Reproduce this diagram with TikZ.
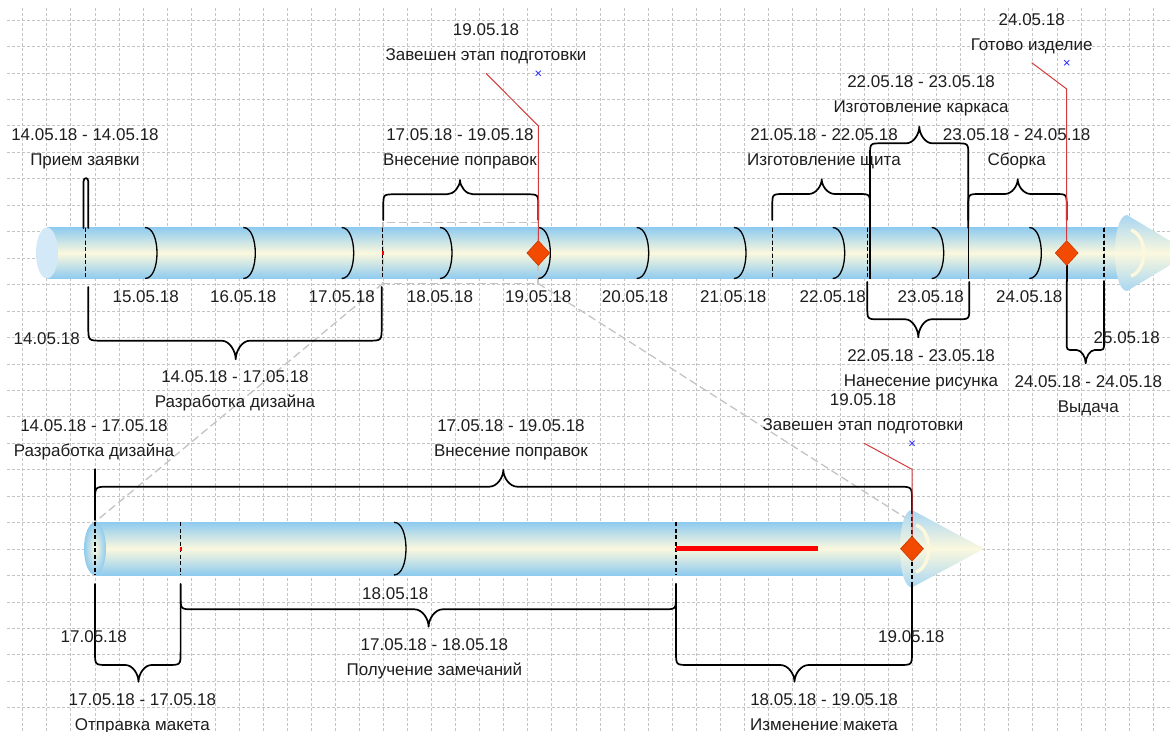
\documentclass[tikz,border=0pt]{standalone}
\usepackage{fontspec}
\setmainfont{Liberation Sans}
\usetikzlibrary{shapes.geometric}
\definecolor{tubeblue}{HTML}{8FCBEF}
\definecolor{tubecream}{HTML}{FBF8DE}
\definecolor{capblue}{HTML}{D3E9F7}
\definecolor{coneblue}{HTML}{A9D6F2}
\definecolor{msorange}{HTML}{F24A00}
\definecolor{msedge}{HTML}{C83800}
\definecolor{calloutred}{HTML}{D23C3C}
\definecolor{textgray}{HTML}{1E1E1E}
\definecolor{markblue}{HTML}{3A3AFF}
\definecolor{gridgray}{HTML}{C4C4C4}
\tikzset{
  gridln/.style={draw=gridgray, line width=0.7pt, dash pattern=on 3pt off 2pt},
  brace/.style={draw=black, line width=1.7pt, line join=round, line cap=round},
  daymark/.style={draw=black, line width=1.3pt},
  dashmark/.style={draw=black, line width=1.1pt, dash pattern=on 4pt off 2.5pt},
  solidmark/.style={draw=black, line width=1.4pt},
  zoomln/.style={draw=gridgray, line width=1.3pt, dash pattern=on 8pt off 4pt},
  callout/.style={draw=calloutred, line width=1pt},
  lbl/.style={font=\fontsize{17}{20}\selectfont, text=textgray, inner sep=0pt, anchor=base},
  milestone/.style={diamond, fill=msorange, draw=msedge, line width=0.6pt, minimum width=23pt, minimum height=25pt, inner sep=0pt},
  xmark/.style={draw=markblue, line width=0.9pt},
}
\newcommand{\twolbl}[5]{%
  \node[lbl] (#1d) at (#2,#3+6) {#4};
  \node[lbl] (#1n) at (#2,#3+31) {#5};}
\newcommand{\bracepath}[8]{% x1, x2, yend, yline, ytip, xtip, r, th
  \pgfmathsetmacro{\bpS}{(#4>#3)?1:-1}%
  \pgfmathsetmacro{\bpYa}{#4-\bpS*#7}%
  \pgfmathsetmacro{\bpXa}{#1+#7}%
  \pgfmathsetmacro{\bpXb}{#2-#7}%
  \pgfmathsetmacro{\bpTl}{#6-#8}%
  \pgfmathsetmacro{\bpTr}{#6+#8}%
  \pgfmathsetmacro{\bpTlc}{#6-0.45*#8}%
  \pgfmathsetmacro{\bpTrc}{#6+0.45*#8}%
  \pgfmathsetmacro{\bpYt}{#4+0.55*(#5-#4)}%
  \draw[brace] (#1,#3) -- (#1,\bpYa) .. controls (#1,#4) .. (\bpXa,#4) -- (\bpTl,#4)
    .. controls (\bpTlc,#4) and (#6,\bpYt) .. (#6,#5)
    .. controls (#6,\bpYt) and (\bpTrc,#4) .. (\bpTr,#4) -- (\bpXb,#4)
    .. controls (#2,#4) .. (#2,\bpYa) -- (#2,#3);}
\newcommand{\dayarc}[3]{% x, ytop, ybottom
  \draw[daymark] (#1,#2) .. controls (#1+16,#2) and (#1+16,#3) .. (#1,#3);}
\newcommand{\bluex}[2]{%
  \draw[xmark] (#1-2.6,#2-2.6) -- (#1+2.6,#2+2.6) (#1-2.6,#2+2.6) -- (#1+2.6,#2-2.6);}
\begin{document}
\begin{tikzpicture}[x=1pt,y=-1pt]
\useasboundingbox (0,0) rectangle (1170,731);
\fill[white] (0,0) rectangle (1170,731);
% grid
\foreach \i in {0,...,47} \draw[gridln] ({22.7+24.05*\i},8) -- ({22.7+24.05*\i},731);
\foreach \j in {0,...,26} \draw[gridln] (7,{20+26.45*\j}) -- (1170,{20+26.45*\j});

% ---------- top tube ----------
\shade[top color=tubeblue, bottom color=tubeblue, middle color=tubecream] (47,227.5) rectangle (1125,278.5);
\fill[capblue] (47,253) ellipse [x radius=11, y radius=25.5];
% arrow head
\shade[top color=coneblue, bottom color=coneblue, middle color=tubecream]
  (1127,215) -- (1190,253) -- (1127,291) .. controls (1111,291) and (1111,215) .. (1127,215) -- cycle;
\draw[tubecream, line width=3.5pt] (1131,230) .. controls (1148,236) and (1148,270) .. (1131,276);

% zoom frame and lines
\coordinate (zA) at (383,222.3);
\coordinate (zB) at (538,283.3);
\coordinate (zC) at (383,283.3);
\coordinate (zL) at (95,522);
\coordinate (zR) at (912,522);
\draw[zoomln] (zA) rectangle (zB);
\draw[zoomln] (zC) -- (zL);
\draw[zoomln] (zB) -- (zR);

% day marks top tube
\foreach \x in {145,243.3,341.7,440,538.3,636.7,734,832.7,931.7,1029.3} \dayarc{\x}{227.5}{278.5}
\foreach \x in {85.5,382.5,772.3,867.3,1104} \draw[dashmark] (\x,227.5) -- (\x,278.5);
\draw[solidmark] (870,227.5) -- (870,278.5);
\draw[solidmark] (968.3,227.5) -- (968.3,278.5);
\draw[red, line width=2pt] (382.5,251) -- (382.5,255);

% braces top
\draw[brace] (83.5,228) -- (83.5,181.5) .. controls (83.5,177) and (88.3,177) .. (88.3,181.5) -- (88.3,228);
\bracepath{383.3}{538.3}{220}{194.3}{180}{460}{12}{13}
\bracepath{772.3}{870}{220}{194}{179.3}{821.7}{12}{13}
\bracepath{870}{968.3}{228}{143.3}{126.7}{919.3}{12}{13}
\bracepath{968.3}{1066.7}{220}{194}{179.3}{1017.7}{12}{13}
\bracepath{88.3}{381.7}{287}{340.7}{359.3}{235.7}{14}{14}
\bracepath{867.3}{969.3}{282}{319.3}{337.3}{918.3}{12}{13}
\bracepath{1066.7}{1104}{281}{350}{363.3}{1085.7}{7}{9}
\draw[brace] (1066.7,265) -- (1066.7,281);

% milestones top
\node[milestone] (m1) at (538.3,253) {};
\node[milestone] (m2) at (1066.7,253) {};
\coordinate (c1a) at (486,73.3);
\coordinate (c1b) at (538.3,126);
\draw[callout] (c1a) -- (c1b) -- (m1.north);
\coordinate (c2a) at (1031.7,62.7);
\coordinate (c2b) at (1066.7,89);
\draw[callout] (c2a) -- (c2b) -- (m2.north);
\bluex{538.3}{73.3}
\bluex{1066.7}{62.7}

% ---------- lower tube ----------
\shade[top color=tubeblue, bottom color=tubeblue, middle color=tubecream] (95,522.3) rectangle (908,575);
\shade[inner color=tubecream, outer color=tubeblue] (95,548.7) ellipse [x radius=11, y radius=26.4];
\shade[top color=coneblue, bottom color=coneblue, middle color=tubecream]
  (912,510) -- (984,548.7) -- (912,587.4) .. controls (896,587.4) and (896,510) .. (912,510) -- cycle;
\draw[tubecream, line width=3.5pt] (916,525) .. controls (933,531) and (933,566) .. (916,572);
\dayarc{394}{522.3}{575}
\draw[dashmark] (95,522.3) -- (95,575);
\draw[dashmark] (180.6,522.3) -- (180.6,575);
\draw[dashmark] (676,522.3) -- (676,575);
\draw[dashmark] (912,510) -- (912,590);
\draw[red, line width=2pt] (180.6,546.5) -- (180.6,551);
\draw[red, line width=5pt] (676,548.7) -- (818,548.7);

% braces lower
\draw[brace] (95,469.3) -- (95,520);
\bracepath{95}{912}{513}{486.7}{470}{503.3}{14}{14}
\bracepath{180.6}{676}{584}{609.3}{626.7}{428.6}{13}{14}
\bracepath{95}{180.6}{584}{665}{681.7}{138.5}{13}{13}
\bracepath{676}{912}{584}{665}{681.7}{794.5}{13}{14}

\node[milestone] (m3) at (912,548.7) {};
\coordinate (c3a) at (864.2,443.3);
\coordinate (c3b) at (912,469.3);
\draw[callout] (c3a) -- (c3b) -- (m3.north);
\bluex{912}{443.3}

% ---------- labels ----------
\twolbl{t1}{85}{134}{14.05.18 - 14.05.18}{Прием заявки}
\twolbl{t2}{460}{134}{17.05.18 - 19.05.18}{Внесение поправок}
\twolbl{t3}{486}{29.3}{19.05.18}{Завешен этап подготовки}
\twolbl{t4}{824}{134}{21.05.18 - 22.05.18}{Изготовление щита}
\twolbl{t5}{921}{81.7}{22.05.18 - 23.05.18}{Изготовление каркаса}
\twolbl{t6}{1016.7}{134}{23.05.18 - 24.05.18}{Сборка}
\twolbl{t7}{1031.7}{19.3}{24.05.18}{Готово изделие}
\twolbl{b1}{235}{376.7}{14.05.18 - 17.05.18}{Разработка дизайна}
\twolbl{b2}{921}{355}{22.05.18 - 23.05.18}{Нанесение рисунка}
\twolbl{b3}{1088.3}{381}{24.05.18 - 24.05.18}{Выдача}
\twolbl{z1}{863}{399.3}{19.05.18}{Завешен этап подготовки}
\twolbl{z2}{94}{425.7}{14.05.18 - 17.05.18}{Разработка дизайна}
\twolbl{z3}{511}{425.7}{17.05.18 - 19.05.18}{Внесение поправок}
\twolbl{z4}{434.4}{644.3}{17.05.18 - 18.05.18}{Получение замечаний}
\twolbl{z5}{142.4}{699.3}{17.05.18 - 17.05.18}{Отправка макета}
\twolbl{z6}{824}{699.3}{18.05.18 - 19.05.18}{Изменение макета}

\foreach \x/\d [count=\k] in {145.7/15, 243.3/16, 341.7/17, 440/18, 538.3/19, 635/20, 733.3/21, 832.7/22, 930.7/23, 1029.3/24}
  \node[lbl] (d\k) at (\x,302) {\d.05.18};
\node[lbl] (s14) at (46.7,344.3) {14.05.18};
\node[lbl] (s25) at (1126.7,343.3) {25.05.18};
\node[lbl] (z18) at (395.3,599.3) {18.05.18};
\node[lbl] (z17) at (93.8,642.7) {17.05.18};
\node[lbl] (z19) at (911.2,642.7) {19.05.18};
\end{tikzpicture}
\end{document}
